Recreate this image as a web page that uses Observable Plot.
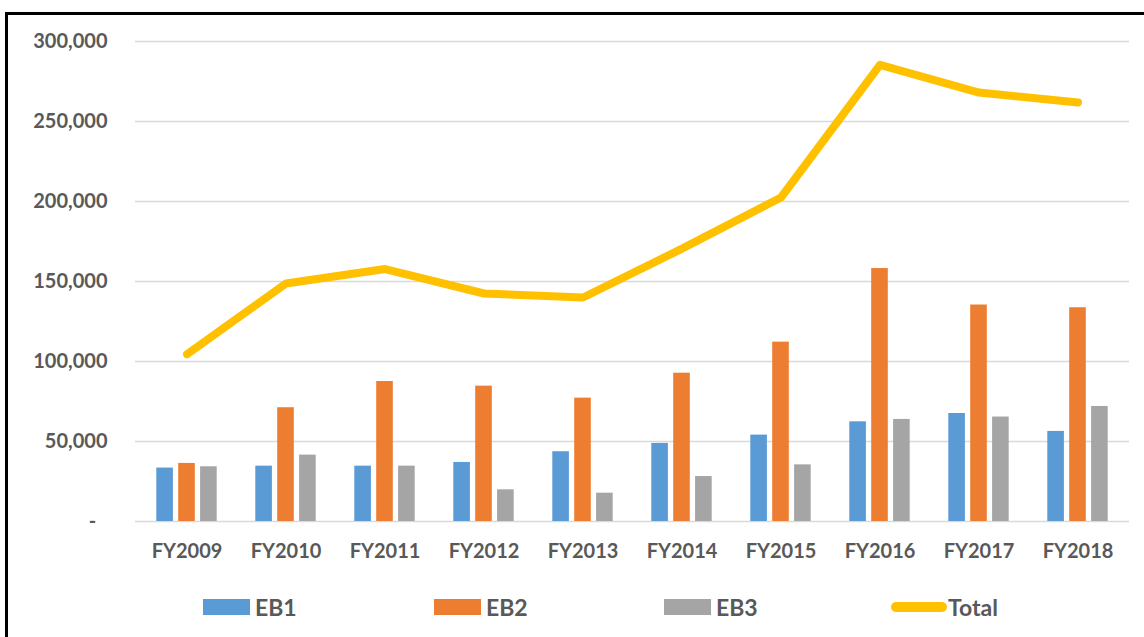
<!DOCTYPE html>
<html>
<head>
<meta charset="utf-8">
<script src="https://cdn.jsdelivr.net/npm/d3@7"></script>
<script src="https://cdn.jsdelivr.net/npm/@observablehq/plot@0.6"></script>
<style>
  html, body { margin: 0; padding: 0; background: #fff; overflow: hidden; }
  #wrap { position: relative; width: 1144px; height: 637px; overflow: hidden;
          font-family: Lato, "Open Sans", sans-serif; font-weight: 700; color: #595959; }
  #frame { position: absolute; left: 5px; top: 12px; width: 1300px; height: 800px;
           border-left: 3px solid #000; border-top: 3px solid #000; }
  #chart { position: absolute; left: 0; top: 0; }
  .leg { position: absolute; top: 592px; height: 30px; display: flex; align-items: center; font-size: 23px; }
  .sw { width: 47px; height: 16px; margin-right: 5px; }
  .ln { width: 56px; height: 10px; border-radius: 5px; margin-right: 1px; }
</style>
</head>
<body>
<div id="wrap">
  <div id="frame"></div>
  <div id="chart"></div>
</div>
<script>
// ---- data ----
const years = ["FY2009","FY2010","FY2011","FY2012","FY2013","FY2014","FY2015","FY2016","FY2017","FY2018"];
const eb1   = [33400, 34600, 34600, 36900, 43600, 48800, 54000, 62300, 67500, 56300];
const eb2   = [36300, 71100, 87500, 84600, 77100, 92700, 112100, 158100, 135300, 133600];
const eb3   = [34200, 41500, 34600, 19800, 17700, 28100, 35400, 63800, 65300, 71900];
const total = [104600, 148700, 157800, 142500, 140000, 170500, 202500, 285400, 268100, 261900];
const seriesNames  = ["EB1", "EB2", "EB3", "Total"];
const seriesColors = ["#5B9BD5", "#ED7D31", "#A5A5A5", "#FFC000"];
const yTicks = [0, 50000, 100000, 150000, 200000, 250000, 300000];

const table = years.map((year, i) => ({year, EB1: eb1[i], EB2: eb2[i], EB3: eb3[i], Total: total[i]}));

// ---- layout ----
const W = 1144, H = 580, mL = 135, mR = 15, mT = 41, mB = 59;
const band = (W - mL - mR) / years.length;
const barW = 17, barStep = 21.9;
const inset = (band - barW) / 2;

const fmt = d => d === 0 ? "-\u2002\u200A" : d3.format(",")(d);

const bars = ["EB1", "EB2", "EB3"].map((k, j) =>
  Plot.barY(table, {x: "year", y: k, fill: seriesColors[j], insetLeft: inset, insetRight: inset, dx: (j - 1) * barStep})
);

const chart = Plot.plot({
  width: W, height: H,
  marginLeft: mL, marginRight: mR, marginTop: mT, marginBottom: mB,
  style: {fontFamily: "Lato, 'Open Sans', sans-serif", fontSize: "20px", fontWeight: "700", color: "#595959", background: "transparent", overflow: "visible"},
  x: {type: "band", domain: years, padding: 0},
  y: {domain: [0, 300000]},
  marks: [
    Plot.gridY(yTicks, {stroke: "#d9d9d9", strokeOpacity: 1, strokeWidth: 1.5}),
    ...bars,
    Plot.line(table, {x: "year", y: "Total", stroke: seriesColors[3], strokeWidth: 8, strokeLinecap: "round", strokeLinejoin: "round"}),
    Plot.axisY(yTicks, {tickSize: 0, tickPadding: 28, tickFormat: fmt, label: null}),
    Plot.axisX({tickSize: 0, tickPadding: 22, label: null})
  ]
});
document.getElementById("chart").appendChild(chart);

// ---- legend ----
const legLeft = [203, 434, 664, 891];
const wrap = document.getElementById("wrap");
seriesNames.forEach((name, i) => {
  const item = document.createElement("div");
  item.className = "leg";
  item.style.left = legLeft[i] + "px";
  const sw = document.createElement("div");
  sw.className = name === "Total" ? "ln" : "sw";
  sw.style.background = seriesColors[i];
  const tx = document.createElement("span");
  tx.textContent = name;
  item.appendChild(sw);
  item.appendChild(tx);
  wrap.appendChild(item);
});
</script>
</body>
</html>
